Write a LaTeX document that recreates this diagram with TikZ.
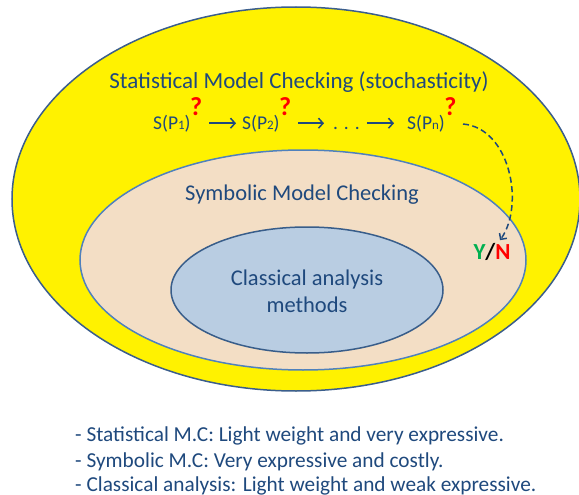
\documentclass[tikz,border=0pt]{standalone}
\usepackage{fontspec}
\setmainfont{Carlito}
\usetikzlibrary{arrows.meta}
\definecolor{txt}{HTML}{1F497D}
\definecolor{outerline}{HTML}{3B5E8C}
\definecolor{midline}{HTML}{4F81BD}
\definecolor{midfill}{HTML}{F3DEC5}
\definecolor{innerfill}{HTML}{B9CDE2}
\definecolor{innerline}{HTML}{385D8A}
\definecolor{ygreen}{HTML}{00B050}
\newcommand\mysub[1]{\raisebox{-0.1ex}{\fontsize{13}{13}\selectfont #1}}
\tikzset{
  lbl/.style={text=txt, inner sep=0pt},
  seq/.style={text=txt, font=\fontsize{19.5}{19.5}\selectfont, inner sep=1pt, anchor=base west},
  qm/.style={text=red, font=\bfseries\fontsize{26}{26}\selectfont, inner sep=0pt, anchor=base west},
  seqarrow/.style={draw=txt, line width=1.5pt, -{Straight Barb[length=4.5pt,width=10pt]}},
  note/.style={text=txt, font=\fontsize{21.3}{21.3}\selectfont, inner sep=0pt, anchor=base west}
}
\begin{document}
\begin{tikzpicture}[x=1pt,y=-1pt]
\useasboundingbox (0,0) rectangle (579,495);
\filldraw[fill=yellow, draw=outerline, line width=1.5pt] (296,199) ellipse [x radius=284, y radius=192];
\filldraw[fill=midfill, draw=midline, line width=1.5pt] (303,260) ellipse [x radius=223, y radius=110];
\filldraw[fill=innerfill, draw=innerline, line width=1.5pt] (307,290) ellipse [x radius=136, y radius=63];

\node[lbl, font=\fontsize{23}{23}\selectfont] (smc) at (299,82) {Statistical Model Checking (stochasticity)};
\node[lbl, font=\fontsize{22.5}{22.5}\selectfont] (symc) at (302,195) {Symbolic Model Checking};
\node[lbl, font=\fontsize{22.5}{27}\selectfont, align=center] (cam) at (307,291) {Classical analysis\\methods};

\node[seq] (p1) at (152,129) {S(P\mysub{1})};
\node[qm] (q1) at ([xshift=-2pt,yshift=13pt]p1.base east) {?};
\node[seq] (p2) at (241,129) {S(P\mysub{2})};
\node[qm] (q2) at ([xshift=-2pt,yshift=13pt]p2.base east) {?};
\node[seq] (dots) at (332,129) {. . .};
\node[seq] (pn) at (406,129) {S(P\mysub{n})};
\node[qm] (qn) at ([xshift=-2pt,yshift=13pt]pn.base east) {?};

\draw[seqarrow] ([xshift=7pt]q1.east |- p1.east) -- ([xshift=-5pt]p2.west |- p1.east);
\draw[seqarrow] ([xshift=7pt]q2.east |- p1.east) -- ([xshift=-8pt]dots.west |- p1.east);
\draw[seqarrow] ([xshift=6pt]dots.east |- p1.east) -- ([xshift=-12pt]pn.west |- p1.east);

\node[font=\bfseries\fontsize{23}{23}\selectfont, inner sep=1pt] (yn) at (492,252) {\textcolor{ygreen}{Y}\textcolor{black}{/}\textcolor{red}{N}};
\coordinate (ds) at (463,124);
\draw[draw=txt, line width=1.5pt, dash pattern=on 6pt off 3.5pt, -{Straight Barb[length=4.5pt,width=9pt]}] (ds) .. controls (510,128) and (525,205) .. ([xshift=8pt,yshift=2pt]yn.north);

\node[note] (n1) at (75,441) {- Statistical M.C: Light weight and very expressive.};
\node[note] (n2) at (75,467) {- Symbolic M.C: Very expressive and costly.};
\node[note] (n3) at (75,491) {- Classical analysis: Light weight and weak expressive.};
\end{tikzpicture}
\end{document}
